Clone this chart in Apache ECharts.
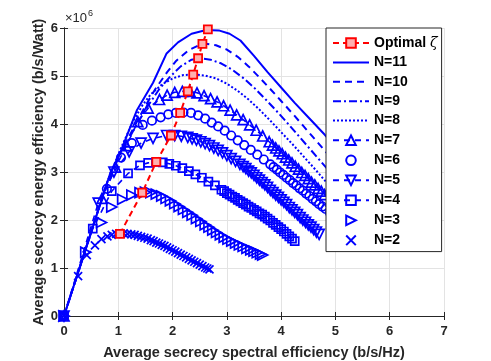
<!DOCTYPE html>
<html>
<head>
<meta charset="utf-8">
<script src="https://cdn.jsdelivr.net/npm/echarts@6/dist/echarts.min.js"></script>
<style>
  html, body { margin: 0; padding: 0; background: #fff; }
  #chart { width: 491px; height: 361px; }
</style>
</head>
<body>
<div id="chart"></div>
<script>
// values, y in units of 10^6 b/s/Watt
var optimal = [[1.03, 1.71], [1.44, 2.57], [1.7, 3.21], [1.97, 3.76], [2.14, 4.23], [2.28, 4.68], [2.38, 5.03], [2.47, 5.37], [2.55, 5.67], [2.65, 5.97]];

var n11 = [[0, 0], [0.85, 2.97], [1.03, 3.39], [1.34, 4.28], [1.64, 4.86], [1.89, 5.47], [2.1, 5.7], [2.35, 5.88], [2.62, 5.96], [2.85, 5.95], [3.05, 5.88], [3.25, 5.74], [3.5, 5.42], [3.75, 5.08], [4.0, 4.76], [4.25, 4.44], [4.5, 4.14], [4.8, 3.78], [5.0, 3.52], [5.2, 3.26], [5.4, 3.0]];

var n10 = [[0, 0], [0.8, 2.8], [1.03, 3.38], [1.25, 3.85], [1.5, 4.38], [1.7, 4.76], [1.9, 5.08], [2.07, 5.32], [2.3, 5.54], [2.5, 5.65], [2.62, 5.67], [2.8, 5.64], [3.0, 5.55], [3.2, 5.4], [3.4, 5.2], [3.6, 4.97], [3.8, 4.73], [4.0, 4.48], [4.2, 4.23], [4.4, 3.97], [4.6, 3.71], [4.8, 3.45], [5.0, 3.19], [5.2, 2.93], [5.4, 2.67]];

var n9 = [[0, 0], [0.8, 2.8], [1.03, 3.35], [1.27, 3.85], [1.5, 4.3], [1.75, 4.72], [1.95, 4.98], [2.15, 5.2], [2.35, 5.34], [2.5, 5.37], [2.7, 5.34], [2.9, 5.26], [3.1, 5.13], [3.3, 4.96], [3.5, 4.76], [3.7, 4.53], [3.9, 4.29], [4.1, 4.04], [4.3, 3.78], [4.5, 3.52], [4.7, 3.26], [4.9, 3.0], [5.1, 2.74], [5.3, 2.48]];

var n8 = [[0, 0], [0.8, 2.8], [1.03, 3.45], [1.27, 4.05], [1.45, 4.4], [1.6, 4.62], [1.8, 4.82], [2.0, 4.95], [2.2, 5.02], [2.4, 5.03], [2.6, 5.01], [2.8, 4.95], [3.0, 4.84], [3.2, 4.69], [3.4, 4.51], [3.6, 4.3], [3.8, 4.07], [4.0, 3.83], [4.2, 3.59], [4.4, 3.34], [4.6, 3.09], [4.8, 2.83], [5.0, 2.57], [5.2, 2.31], [5.4, 2.05]];

var n7 = [[0, 0], [0.7, 2.45], [0.95, 3.1], [1.15, 3.55], [1.36, 4.05], [1.55, 4.33], [1.76, 4.51], [1.9, 4.6], [2.04, 4.66], [2.18, 4.68], [2.32, 4.68], [2.45, 4.65], [2.58, 4.59], [2.7, 4.53], [2.82, 4.46], [2.94, 4.38], [3.06, 4.29], [3.18, 4.19], [3.3, 4.09], [3.42, 3.98], [3.54, 3.87], [3.66, 3.75], [3.78, 3.63], [3.84, 3.56], [3.9, 3.5], [3.96, 3.44], [4.02, 3.38], [4.08, 3.31], [4.14, 3.25], [4.2, 3.19], [4.26, 3.12], [4.32, 3.06], [4.38, 2.99], [4.44, 2.93], [4.5, 2.86], [4.56, 2.79], [4.62, 2.73], [4.68, 2.66], [4.74, 2.6], [4.8, 2.53], [4.92, 2.4], [5.04, 2.28], [5.16, 2.15], [5.3, 2.0]];

var n6 = [[0, 0], [0.79, 2.65], [1.05, 3.3], [1.25, 3.6], [1.45, 3.98], [1.62, 4.07], [1.78, 4.14], [1.92, 4.2], [2.06, 4.23], [2.2, 4.24], [2.34, 4.23], [2.47, 4.18], [2.6, 4.11], [2.72, 4.03], [2.84, 3.95], [2.96, 3.86], [3.08, 3.76], [3.2, 3.66], [3.32, 3.56], [3.44, 3.46], [3.56, 3.36], [3.68, 3.26], [3.8, 3.16], [3.86, 3.1], [3.92, 3.05], [3.98, 2.99], [4.04, 2.94], [4.1, 2.88], [4.16, 2.83], [4.22, 2.77], [4.28, 2.72], [4.34, 2.66], [4.4, 2.61], [4.46, 2.55], [4.52, 2.5], [4.58, 2.44], [4.64, 2.39], [4.7, 2.33], [4.76, 2.28], [4.82, 2.23], [4.9, 2.15], [5.05, 2.02], [5.2, 1.88]];

var n5 = [[0, 0], [0.63, 2.35], [0.92, 3.0], [1.2, 3.42], [1.42, 3.6], [1.64, 3.7], [1.89, 3.76], [2.04, 3.76], [2.16, 3.745], [2.28, 3.72], [2.36, 3.69], [2.44, 3.665], [2.52, 3.63], [2.6, 3.59], [2.68, 3.55], [2.76, 3.5], [2.84, 3.45], [2.92, 3.4], [3.0, 3.34], [3.08, 3.28], [3.16, 3.22], [3.24, 3.16], [3.3, 3.11], [3.35, 3.07], [3.4, 3.02], [3.45, 2.98], [3.5, 2.93], [3.55, 2.88], [3.6, 2.83], [3.65, 2.78], [3.7, 2.73], [3.75, 2.68], [3.8, 2.62], [3.85, 2.57], [3.9, 2.52], [3.95, 2.47], [4.0, 2.42], [4.05, 2.37], [4.1, 2.32], [4.15, 2.26], [4.2, 2.21], [4.25, 2.16], [4.3, 2.11], [4.35, 2.05], [4.4, 2.0], [4.45, 1.95], [4.5, 1.9], [4.55, 1.85], [4.6, 1.8], [4.65, 1.75], [4.7, 1.7]];

var n4 = [[0, 0], [0.53, 1.82], [0.88, 2.6], [1.18, 2.97], [1.4, 3.14], [1.55, 3.19], [1.7, 3.21], [1.82, 3.2], [1.94, 3.17], [2.06, 3.13], [2.18, 3.08], [2.3, 3.02], [2.42, 2.95], [2.54, 2.88], [2.66, 2.8], [2.78, 2.72], [2.9, 2.63], [2.95, 2.6], [3.0, 2.56], [3.05, 2.53], [3.1, 2.49], [3.15, 2.46], [3.2, 2.42], [3.25, 2.39], [3.3, 2.35], [3.35, 2.32], [3.4, 2.28], [3.45, 2.25], [3.5, 2.21], [3.55, 2.18], [3.6, 2.14], [3.65, 2.11], [3.7, 2.07], [3.75, 2.03], [3.8, 1.99], [3.85, 1.94], [3.9, 1.9], [3.95, 1.85], [4.0, 1.81], [4.05, 1.76], [4.1, 1.71], [4.15, 1.66], [4.2, 1.61], [4.25, 1.56]];

var n3 = [[0, 0], [0.4, 1.33], [0.69, 1.95], [0.88, 2.27], [1.08, 2.43], [1.25, 2.52], [1.4, 2.57], [1.5, 2.58], [1.6, 2.57], [1.7, 2.54], [1.8, 2.5], [1.88, 2.45], [1.96, 2.4], [2.04, 2.34], [2.12, 2.28], [2.2, 2.22], [2.28, 2.16], [2.36, 2.1], [2.44, 2.03], [2.52, 1.97], [2.6, 1.9], [2.67, 1.85], [2.74, 1.79], [2.81, 1.74], [2.88, 1.69], [2.95, 1.64], [3.02, 1.6], [3.09, 1.56], [3.16, 1.52], [3.23, 1.48], [3.3, 1.45], [3.37, 1.41], [3.44, 1.38], [3.5, 1.35], [3.56, 1.32], [3.62, 1.29], [3.66, 1.27]];

var n2 = [[0, 0], [0.26, 0.83], [0.42, 1.27], [0.57, 1.47], [0.69, 1.6], [0.8, 1.66], [0.88, 1.69], [0.96, 1.71], [1.03, 1.72], [1.1, 1.72], [1.17, 1.71], [1.24, 1.7], [1.3, 1.69], [1.36, 1.67], [1.42, 1.65], [1.48, 1.63], [1.54, 1.61], [1.6, 1.58], [1.65, 1.56], [1.7, 1.53], [1.75, 1.51], [1.8, 1.48], [1.85, 1.46], [1.9, 1.43], [1.95, 1.4], [2.0, 1.37], [2.05, 1.34], [2.1, 1.31], [2.15, 1.28], [2.2, 1.25], [2.25, 1.22], [2.3, 1.19], [2.35, 1.16], [2.4, 1.13], [2.45, 1.1], [2.5, 1.07], [2.55, 1.04], [2.6, 1.01], [2.64, 0.99], [2.68, 0.97]];

var xTicks = [0, 7, 1];
var yTicks = [0, 6, 1];

var blue = "#0000ff";
var ink = "#262626";
var font = "'Liberation Sans', Arial, Helvetica, sans-serif";
var cross = "path://M0,0L10,10M10,0L0,10";

function curve(name, data, symbol, size, rotate, lineType, lineWidth) {
  var marked = symbol !== "none";
  return {
    name: name,
    type: "line",
    data: data,
    symbol: symbol,
    symbolSize: size,
    symbolRotate: rotate,
    showSymbol: marked,
    lineStyle: { color: blue, width: lineWidth, type: lineType },
    itemStyle: marked
      ? { color: "none", borderColor: blue, borderWidth: 1.7 }
      : { color: "none", borderColor: "none", borderWidth: 0 },
    emphasis: { disabled: true },
    z: 2
  };
}

var series = [
  curve("N=11", n11, "none", 0, 0, "solid", 2),
  curve("N=10", n10, "none", 0, 0, [7, 5], 2),
  curve("N=9", n9, "none", 0, 0, [8, 3, 2, 3], 2),
  curve("N=8", n8, "none", 0, 0, [2, 2], 2),
  curve("N=7", n7, "triangle", 10, 0, [6, 5], 1.6),
  curve("N=6", n6, "circle", 8.5, 0, "solid", 0),
  curve("N=5", n5, "triangle", 10, 180, [6, 5], 1.6),
  curve("N=4", n4, "rect", 8, 0, [6, 5], 1.6),
  curve("N=3", n3, "triangle", 10, -90, "solid", 0),
  curve("N=2", n2, cross, 8, 0, "solid", 0),
  {
    name: "Optimal ζ",
    type: "line",
    data: optimal,
    symbol: "rect",
    symbolSize: 8,
    lineStyle: { color: "#ff0000", width: 2, type: [6, 4] },
    itemStyle: { color: "#ffb0b0", borderColor: "#ff0000", borderWidth: 1.8 },
    emphasis: { disabled: true },
    z: 3
  }
];

var titleFont = "bold 14.5px " + font;

var chart = echarts.init(document.getElementById("chart"));
chart.setOption({
  animation: false,
  backgroundColor: "#fff",
  textStyle: { fontFamily: font },
  grid: { left: 64, top: 28, width: 380, height: 288 },
  xAxis: [
    {
      type: "value", min: xTicks[0], max: xTicks[1], interval: xTicks[2],
      axisLine: { lineStyle: { color: ink, width: 1 } },
      axisTick: { inside: true, length: 4, lineStyle: { color: ink } },
      axisLabel: { color: ink, fontWeight: "bold", fontSize: 13, margin: 9, fontFamily: font },
      splitLine: { lineStyle: { color: "#e3e3e3", width: 1 } }
    },
    {
      type: "value", position: "top", min: xTicks[0], max: xTicks[1], interval: xTicks[2],
      axisLine: { show: true, lineStyle: { color: ink, width: 1 } },
      axisTick: { inside: true, length: 4, lineStyle: { color: ink } },
      axisLabel: { show: false },
      splitLine: { show: false }
    }
  ],
  yAxis: [
    {
      type: "value", min: yTicks[0], max: yTicks[1], interval: yTicks[2],
      axisLine: { show: true, lineStyle: { color: ink, width: 1 } },
      axisTick: { show: true, inside: true, length: 4, lineStyle: { color: ink } },
      axisLabel: { color: ink, fontWeight: "bold", fontSize: 13, margin: 6, fontFamily: font },
      splitLine: { lineStyle: { color: "#e3e3e3", width: 1 } }
    },
    {
      type: "value", position: "right", min: yTicks[0], max: yTicks[1], interval: yTicks[2],
      axisLine: { show: true, lineStyle: { color: ink, width: 1 } },
      axisTick: { show: true, inside: true, length: 4, lineStyle: { color: ink } },
      axisLabel: { show: false },
      splitLine: { show: false }
    }
  ],
  legend: {
    data: ["Optimal ζ", "N=11", "N=10", "N=9", "N=8", "N=7", "N=6", "N=5", "N=4", "N=3", "N=2"],
    orient: "vertical",
    left: 326, top: 28,
    padding: [8, 4, 4, 6],
    itemWidth: 36, itemHeight: 12, itemGap: 5.4,
    backgroundColor: "#fff",
    borderColor: ink, borderWidth: 1,
    selectedMode: false,
    formatter: function (n) { return n === "Optimal ζ" ? "Optimal {z|ζ}" : n; },
    textStyle: {
      color: "#000", fontWeight: "bold", fontSize: 14, lineHeight: 14, fontFamily: font,
      rich: { z: { fontStyle: "italic", fontWeight: "normal", fontSize: 14, lineHeight: 14, fontFamily: "'DejaVu Serif', serif", color: "#000" } }
    }
  },
  graphic: [
    { type: "text", left: 65, top: 12, style: { text: "×10", fill: ink, font: "13px " + font } },
    { type: "text", left: 88, top: 9, style: { text: "6", fill: ink, font: "9px " + font } },
    {
      type: "text", x: 254, y: 353,
      style: { text: "Average secrecy spectral efficiency (b/s/Hz)", fill: ink, font: titleFont, align: "center", verticalAlign: "middle" }
    },
    {
      type: "text", x: 39, y: 172, rotation: Math.PI / 2,
      style: { text: "Average secrecy energy efficiency (b/s/Watt)", fill: ink, font: titleFont, align: "center", verticalAlign: "middle" }
    }
  ],
  series: series
});
</script>
</body>
</html>
